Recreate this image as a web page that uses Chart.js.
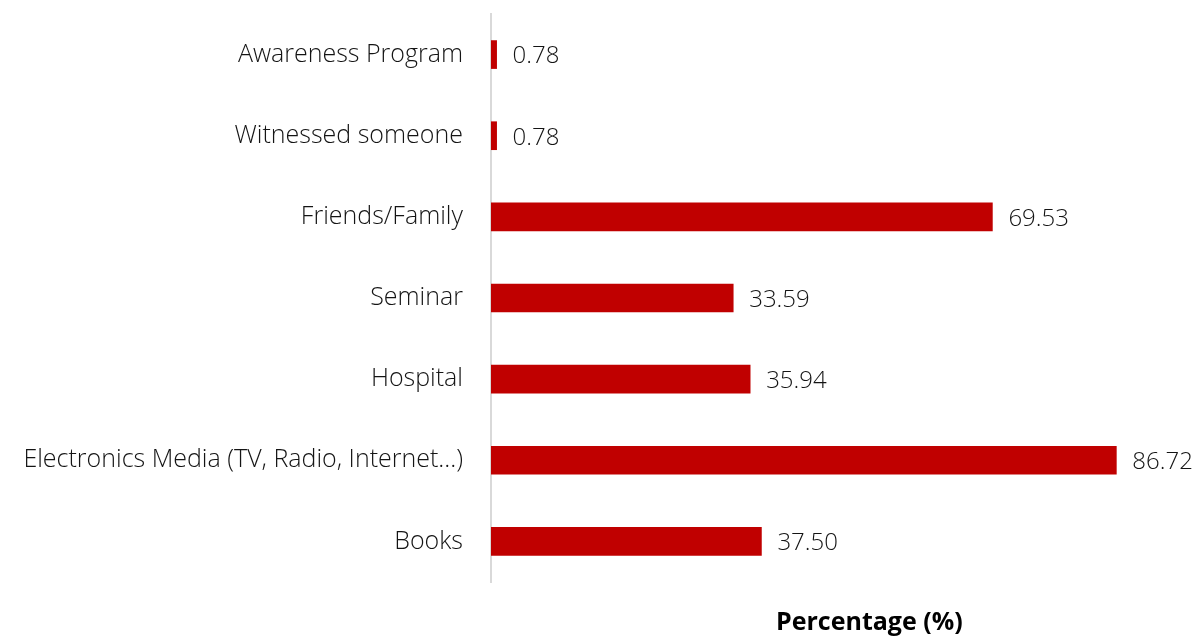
<!DOCTYPE html>
<html>
<head>
<meta charset="utf-8">
<script src="https://cdn.jsdelivr.net/npm/chart.js@4"></script>
<style>
    html, body { margin: 0; padding: 0; background: #ffffff; }
    #wrap { width: 1195px; height: 637px; position: relative; }
</style>
</head>
<body>
<div id="wrap"><canvas id="sources"></canvas></div>
<script>
const categories = [
    "Awareness Program",
    "Witnessed someone",
    "Friends/Family",
    "Seminar",
    "Hospital",
    "Electronics Media (TV, Radio, Internet...)",
    "Books",
];
const percentages = [0.78, 0.78, 69.53, 33.59, 35.94, 86.72, 37.50];
const axisTitle = "Percentage (%)";

const FONT = "'Open Sans', 'Noto Sans', sans-serif";
const TEXT = "#141414";

// value labels next to each bar
const valueLabels = {
    id: "valueLabels",
    afterDatasetsDraw(chart){
        let ctx = chart.ctx;
        let meta = chart.getDatasetMeta(0);
        ctx.save();
        ctx.font = `300 24px ${FONT}`;
        ctx.fillStyle = TEXT;
        ctx.textAlign = "left";
        ctx.textBaseline = "middle";
        meta.data.forEach((bar, i) => {
            ctx.fillText(percentages[i].toFixed(2), bar.x + 16, bar.y + 2);
        });
        ctx.restore();
    }
};

// x axis title (axis itself is hidden, like the original)
const xTitle = {
    id: "xTitle",
    afterDraw(chart){
        let ctx = chart.ctx;
        let area = chart.chartArea;
        ctx.save();
        ctx.font = `bold 25px ${FONT}`;
        ctx.fillStyle = "#000000";
        ctx.textAlign = "center";
        ctx.textBaseline = "middle";
        ctx.fillText(axisTitle, area.left + (area.right - area.left) * 0.583, 623);
        ctx.restore();
    }
};

new Chart("sources", {
    type: "bar",
    data: {
        labels: categories,
        datasets: [{
            data: percentages,
            backgroundColor: "#c00000",
            borderWidth: 0,
            barThickness: 28,
        }],
    },
    options: {
        indexAxis: "y",
        responsive: true,
        maintainAspectRatio: false,
        animation: false,
        layout: { padding: { top: 14, right: 55, bottom: 55, left: 0 } },
        plugins: {
            legend: { display: false },
            tooltip: { enabled: false },
        },
        scales: {
            x: {
                display: false,
                min: 0,
                max: 90,
            },
            y: {
                grid: { display: false, drawTicks: false },
                border: { display: true, color: "#d9d9d9", width: 2 },
                afterFit: (scale) => {
                    scale.width = 491;
                    scale.paddingTop = 0;
                    scale.paddingBottom = 0;
                },
                ticks: {
                    padding: 28,
                    color: TEXT,
                    font: { family: FONT, size: 25, weight: 300 },
                },
            },
        },
    },
    plugins: [valueLabels, xTitle],
});
</script>
</body>
</html>
